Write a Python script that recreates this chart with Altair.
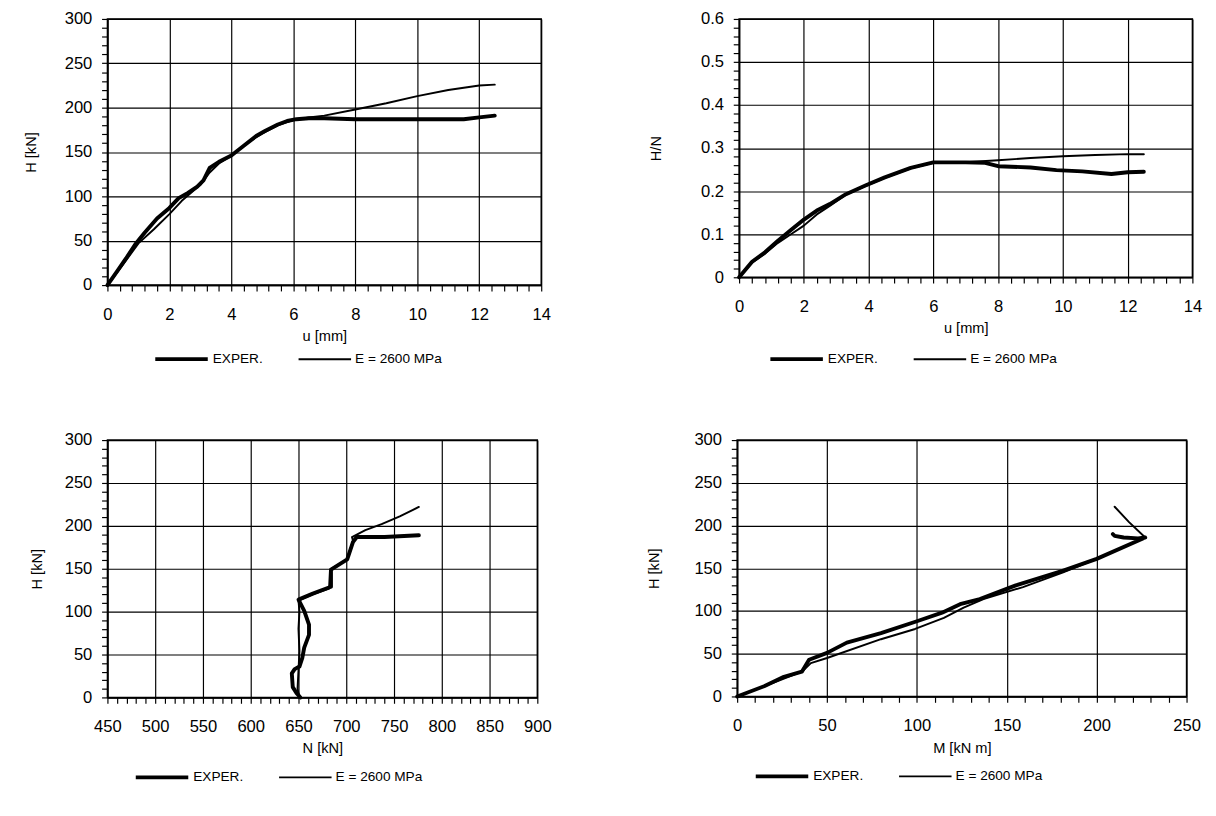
import altair as alt
import pandas as pd

SERIES = ["EXPER.", "E = 2600 MPa"]

# Panel 1: H [kN] vs u [mm]
u1_exp = [0, 0.3, 0.6, 0.9, 1.2, 1.6, 2.0, 2.3, 2.6, 2.9, 3.1, 3.3, 3.6, 4.0, 4.4, 4.8, 5.1, 5.5, 5.8, 6.1, 6.5, 7.0, 8.0, 9.0, 10.0, 11.0, 11.5, 12.0, 12.5]
H1_exp = [0, 15, 30, 46, 59, 75, 87, 98, 104, 111, 118, 132, 139, 146, 157, 168, 174, 181, 185, 187, 188, 188, 187, 187, 187, 187, 187, 189, 191]
u1_num = [0, 0.5, 1.0, 1.5, 2.0, 2.4, 2.7, 3.0, 3.3, 3.6, 4.0, 4.5, 5.0, 5.5, 6.0, 6.5, 7.0, 8.0, 9.0, 10.0, 11.0, 12.0, 12.5]
H1_num = [0, 23, 47, 63, 80, 95, 104, 113, 127, 137, 146, 160, 171, 180, 186, 189, 191, 198, 205, 213, 220, 225, 226]

# Panel 2: H/N vs u [mm]
u2_exp = [0, 0.4, 0.8, 1.2, 1.6, 2.0, 2.4, 2.8, 3.3, 3.9, 4.5, 5.3, 6.0, 7.0, 7.6, 8.0, 9.0, 9.8, 10.6, 11.5, 12.0, 12.5]
HN2_exp = [0, 0.036, 0.058, 0.085, 0.110, 0.134, 0.155, 0.170, 0.193, 0.213, 0.232, 0.254, 0.267, 0.267, 0.266, 0.258, 0.255, 0.249, 0.246, 0.240, 0.244, 0.245]
u2_num = [0, 0.4, 0.8, 1.2, 1.6, 2.0, 2.4, 2.8, 3.3, 3.9, 4.5, 5.3, 6.0, 7.0, 8.0, 9.0, 10.0, 11.0, 12.0, 12.5]
HN2_num = [0, 0.034, 0.055, 0.080, 0.100, 0.120, 0.146, 0.166, 0.192, 0.212, 0.231, 0.253, 0.266, 0.267, 0.272, 0.277, 0.281, 0.284, 0.286, 0.286]

# Panel 3: H [kN] vs N [kN]
N3_exp = [652, 648, 644, 643, 646, 651, 654, 656, 661, 661, 656, 650, 665, 684, 684, 701, 707, 711, 740, 776]
H3_exp = [0, 5, 12, 28, 33, 36, 46, 58, 73, 85, 101, 114, 121, 129, 149, 161, 181, 187, 187, 189]
N3_num = [651, 649, 650, 651, 650, 651, 650, 664, 682, 683, 701, 707, 706, 720, 737, 756, 776]
H3_num = [0, 10, 31, 54, 80, 100, 113, 120, 127, 149, 161, 183, 187, 195, 202, 211, 222]

# Panel 4: H [kN] vs M [kN m]
M4_exp = [0, 15, 26, 36, 40, 50, 61, 80, 100, 114, 124, 135, 155, 181, 200, 227, 223, 215, 210, 209]
H4_exp = [0, 12, 23, 29, 43, 51, 63, 74, 88, 98, 108, 114, 130, 147, 161, 186, 185, 186, 188, 190]
M4_num = [0, 20, 36, 41, 50, 80, 99, 115, 126, 137, 159, 181, 200, 227, 218, 210]
H4_num = [0, 16, 29, 39, 45, 67, 79, 92, 104, 114, 128, 145, 161, 186, 204, 222]

FONT = "Liberation Sans"


def frame(xe, ye, xn, yn):
    rows = []
    for i, (a, b) in enumerate(zip(xe, ye)):
        rows.append({"x": a, "y": b, "series": SERIES[0], "idx": i})
    for i, (a, b) in enumerate(zip(xn, yn)):
        rows.append({"x": a, "y": b, "series": SERIES[1], "idx": i})
    return pd.DataFrame(rows)


def steps(lo, hi, step, nd=3):
    n = int(round((hi - lo) / step))
    return [round(lo + i * step, nd) for i in range(n + 1)]


def major_test(step):
    return f"abs(datum.value/{step} - round(datum.value/{step})) < 1e-6"


def axis(title, values, step, title_pad, label_pad, dec=False):
    test = major_test(step)
    if dec:
        lab = f"{test} ? '' + round(datum.value*10)/10 : ''"
    else:
        lab = f"{test} ? '' + round(datum.value) : ''"
    return alt.Axis(
        title=title,
        values=values,
        labelExpr=lab,
        gridOpacity={"condition": {"test": test, "value": 1}, "value": 0},
        titlePadding=title_pad,
        labelPadding=label_pad,
        labelFlush=False,
        labelOverlap=False,
    )


def panel(df, xtitle, ytitle, xdom, ydom, xvals, xstep, yvals, ystep, w, h,
          lx, ly, ytp, ydec=False):
    return (
        alt.Chart(df)
        .mark_line(color="black", strokeCap="round", strokeJoin="round")
        .encode(
            x=alt.X("x:Q", scale=alt.Scale(domain=xdom, nice=False, zero=False),
                    axis=axis(xtitle, xvals, xstep, 7, 16)),
            y=alt.Y("y:Q", scale=alt.Scale(domain=ydom, nice=False, zero=False),
                    axis=axis(ytitle, yvals, ystep, ytp, 10, dec=ydec)),
            strokeWidth=alt.StrokeWidth(
                "series:N",
                scale=alt.Scale(domain=SERIES, range=[4, 2]),
                legend=alt.Legend(
                    orient="none", legendX=lx, legendY=ly, direction="horizontal",
                    title=None, symbolType="stroke", symbolSize=2900,
                    symbolStrokeColor="black", labelFontSize=14, labelFont=FONT,
                    labelColor="black", columnPadding=32, labelOffset=3,
                ),
            ),
            order="idx:Q",
        )
        .properties(width=w, height=h)
    )


p1 = panel(frame(u1_exp, H1_exp, u1_num, H1_num), "u [mm]", "H [kN]", [0, 14], [0, 300],
           steps(0, 14, 0.4, 2), 2, steps(0, 300, 10), 50, 445, 273, 47, 320, 26)
p2 = panel(frame(u2_exp, HN2_exp, u2_num, HN2_num), "u [mm]", "H/N", [0, 14], [0, 0.6],
           steps(0, 14, 0.4, 2), 2, steps(0, 0.6, 0.02, 3), 0.1, 465, 265, 30, 320, 38, ydec=True)
p3 = panel(frame(N3_exp, H3_exp, N3_num, H3_num), "N [kN]", "H [kN]", [450, 900], [0, 300],
           steps(450, 900, 10), 50, steps(0, 300, 10), 50, 441, 264, 27, 317, 20)
p4 = panel(frame(M4_exp, H4_exp, M4_num, H4_num), "M [kN m]", "H [kN]", [0, 250], [0, 300],
           steps(0, 250, 10), 50, steps(0, 300, 10), 50, 461, 263, 17, 316, 33)

row1 = alt.hconcat(p1, p2, spacing=98).resolve_scale(strokeWidth="independent").resolve_legend(strokeWidth="independent")
row2 = alt.hconcat(p3, p4, spacing=96).resolve_scale(strokeWidth="independent").resolve_legend(strokeWidth="independent")

chart = (
    alt.vconcat(row1, row2, spacing=64)
    .resolve_scale(strokeWidth="independent")
    .resolve_legend(strokeWidth="independent")
    .properties(padding={"left": 15, "top": -9, "right": 5, "bottom": 5}, background="white")
    .configure_view(stroke="black", strokeWidth=1.5)
    .configure_axis(
        domainColor="black", domainWidth=1.5, tickColor="black", tickSize=6, tickWidth=1.2,
        gridColor="black", gridWidth=1.2, labelColor="black", titleColor="black",
        labelFont=FONT, titleFont=FONT, labelFontSize=17, titleFontSize=15,
        titleFontWeight="normal",
    )
)

chart.save("out.html", embed_options={"renderer": "svg", "actions": False})
